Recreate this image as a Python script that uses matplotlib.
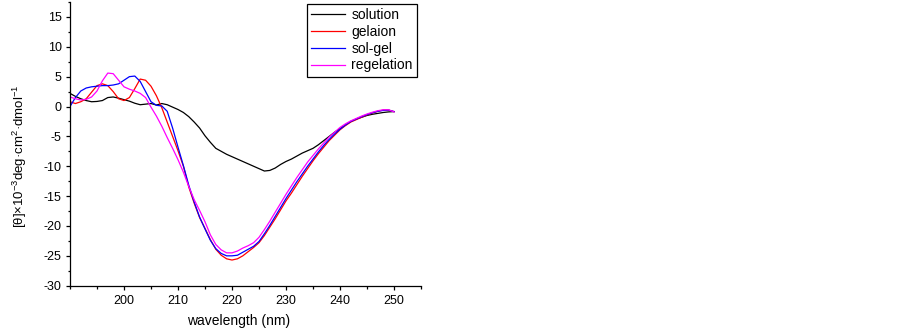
import matplotlib
matplotlib.use('Agg')
import matplotlib.pyplot as plt
from matplotlib.ticker import MultipleLocator

plt.rcParams['font.family'] = ['Liberation Sans', 'DejaVu Sans']
plt.rcParams['axes.unicode_minus'] = False
plt.rcParams['mathtext.fontset'] = 'custom'
plt.rcParams['mathtext.rm'] = 'Liberation Sans'
plt.rcParams['mathtext.it'] = 'Liberation Sans:italic'
plt.rcParams['mathtext.bf'] = 'Liberation Sans:bold'

# wavelength (nm), 1 nm steps
wl = list(range(190, 251))

solution = [2.2, 1.7, 1.3, 1.0, 0.8, 0.85, 1.0, 1.5, 1.6, 1.4,
            1.15, 0.9, 0.55, 0.3, 0.4, 0.5, 0.25, 0.5, 0.3, -0.1,
            -0.5, -1.0, -1.7, -2.6, -3.6, -4.9, -6.0, -7.0, -7.5, -8.0,
            -8.4, -8.8, -9.2, -9.6, -10.0, -10.4, -10.8, -10.7, -10.3, -9.7,
            -9.2, -8.8, -8.3, -7.8, -7.4, -7.0, -6.4, -5.7, -5.0, -4.3,
            -3.7, -3.1, -2.5, -2.1, -1.8, -1.5, -1.3, -1.15, -1.0, -0.9,
            -0.85]

gelaion = [0.8, 0.5, 0.8, 1.3, 2.4, 3.5, 3.8, 3.5, 2.5, 1.3,
           1.0, 1.5, 3.0, 4.6, 4.4, 3.4, 1.8, -0.2, -2.6, -5.0,
           -7.4, -10.0, -13.5, -16.2, -18.6, -20.4, -22.3, -23.9, -24.9, -25.5,
           -25.7, -25.5, -25.0, -24.3, -23.6, -22.8, -21.6, -20.2, -18.8, -17.3,
           -15.8, -14.5, -13.1, -11.7, -10.4, -9.1, -7.9, -6.8, -5.7, -4.8,
           -3.9, -3.2, -2.6, -2.2, -1.8, -1.4, -1.1, -0.8, -0.6, -0.6,
           -0.85]

sol_gel = [0.0, 1.5, 2.6, 3.1, 3.3, 3.4, 3.5, 3.5, 3.6, 3.8,
           4.4, 5.0, 5.1, 4.2, 2.5, 0.8, 0.2, 0.1, -0.8, -3.6,
           -6.8, -9.9, -13.2, -16.0, -18.5, -20.5, -22.4, -23.8, -24.6, -25.0,
           -25.0, -24.9, -24.4, -23.9, -23.4, -22.6, -21.3, -19.9, -18.4, -16.9,
           -15.4, -14.0, -12.6, -11.3, -10.0, -8.8, -7.6, -6.5, -5.5, -4.6,
           -3.8, -3.1, -2.5, -2.1, -1.7, -1.35, -1.05, -0.8, -0.65, -0.6,
           -0.85]

regelation = [1.6, 1.3, 1.1, 1.2, 1.6, 2.6, 4.3, 5.6, 5.5, 4.4,
              3.3, 2.9, 2.6, 2.2, 1.5, -0.1, -1.6, -3.3, -5.2, -7.0,
              -8.9, -11.0, -13.4, -15.6, -17.4, -19.3, -21.5, -23.1, -24.0, -24.5,
              -24.5, -24.2, -23.7, -23.3, -22.8, -21.9, -20.6, -19.2, -17.7, -16.2,
              -14.7, -13.3, -11.9, -10.6, -9.3, -8.2, -7.1, -6.1, -5.1, -4.3,
              -3.5, -2.9, -2.4, -2.0, -1.6, -1.25, -0.95, -0.7, -0.55, -0.55,
              -0.9]

names = ['solution', 'gelaion', 'sol-gel', 'regelation']
colors = ['black', 'red', 'blue', 'magenta']

fig = plt.figure(figsize=(9.03, 3.31), dpi=100)
ax = fig.add_axes([70/903, 1-285.7/331, 351/903, 283.7/331])

for ys, nm, c in zip([solution, gelaion, sol_gel, regelation], names, colors):
    ax.plot(wl, ys, color=c, lw=0.9, label=nm)

ax.set_xlim(190, 255)
ax.set_ylim(-30, 17.5)
ax.set_xticks([200, 210, 220, 230, 240, 250])
ax.xaxis.set_minor_locator(MultipleLocator(5))
ax.set_yticks(range(-30, 16, 5))
ax.yaxis.set_minor_locator(MultipleLocator(2.5))
ax.tick_params(which='major', direction='out', length=3, width=0.9,
               labelsize=9, pad=3)
ax.tick_params(which='minor', direction='out', length=1.8, width=0.9)
ax.tick_params(axis='x', which='major', pad=4)

for s in ['top', 'right']:
    ax.spines[s].set_visible(False)
for s in ['left', 'bottom']:
    ax.spines[s].set_linewidth(0.9)

ax.set_xlabel('wavelength (nm)', fontsize=10)
ax.xaxis.set_label_coords(0.479, -0.10)
ax.set_ylabel(r'[θ]×10$^{-3}$deg·cm$^{2}$·dmol$^{-1}$', fontsize=9.5)
ax.yaxis.set_label_coords(-0.117, 0.457)

leg = ax.legend(loc='upper right', bbox_to_anchor=(417/903, 1-4/331),
                bbox_transform=fig.transFigure, fontsize=10,
                fancybox=False, edgecolor='black', framealpha=1,
                handlelength=2.4, handletextpad=0.5, labelspacing=0.2,
                borderpad=0.3, borderaxespad=0)
leg.get_frame().set_linewidth(0.9)

fig.savefig('out.png', dpi=100, facecolor='white')
